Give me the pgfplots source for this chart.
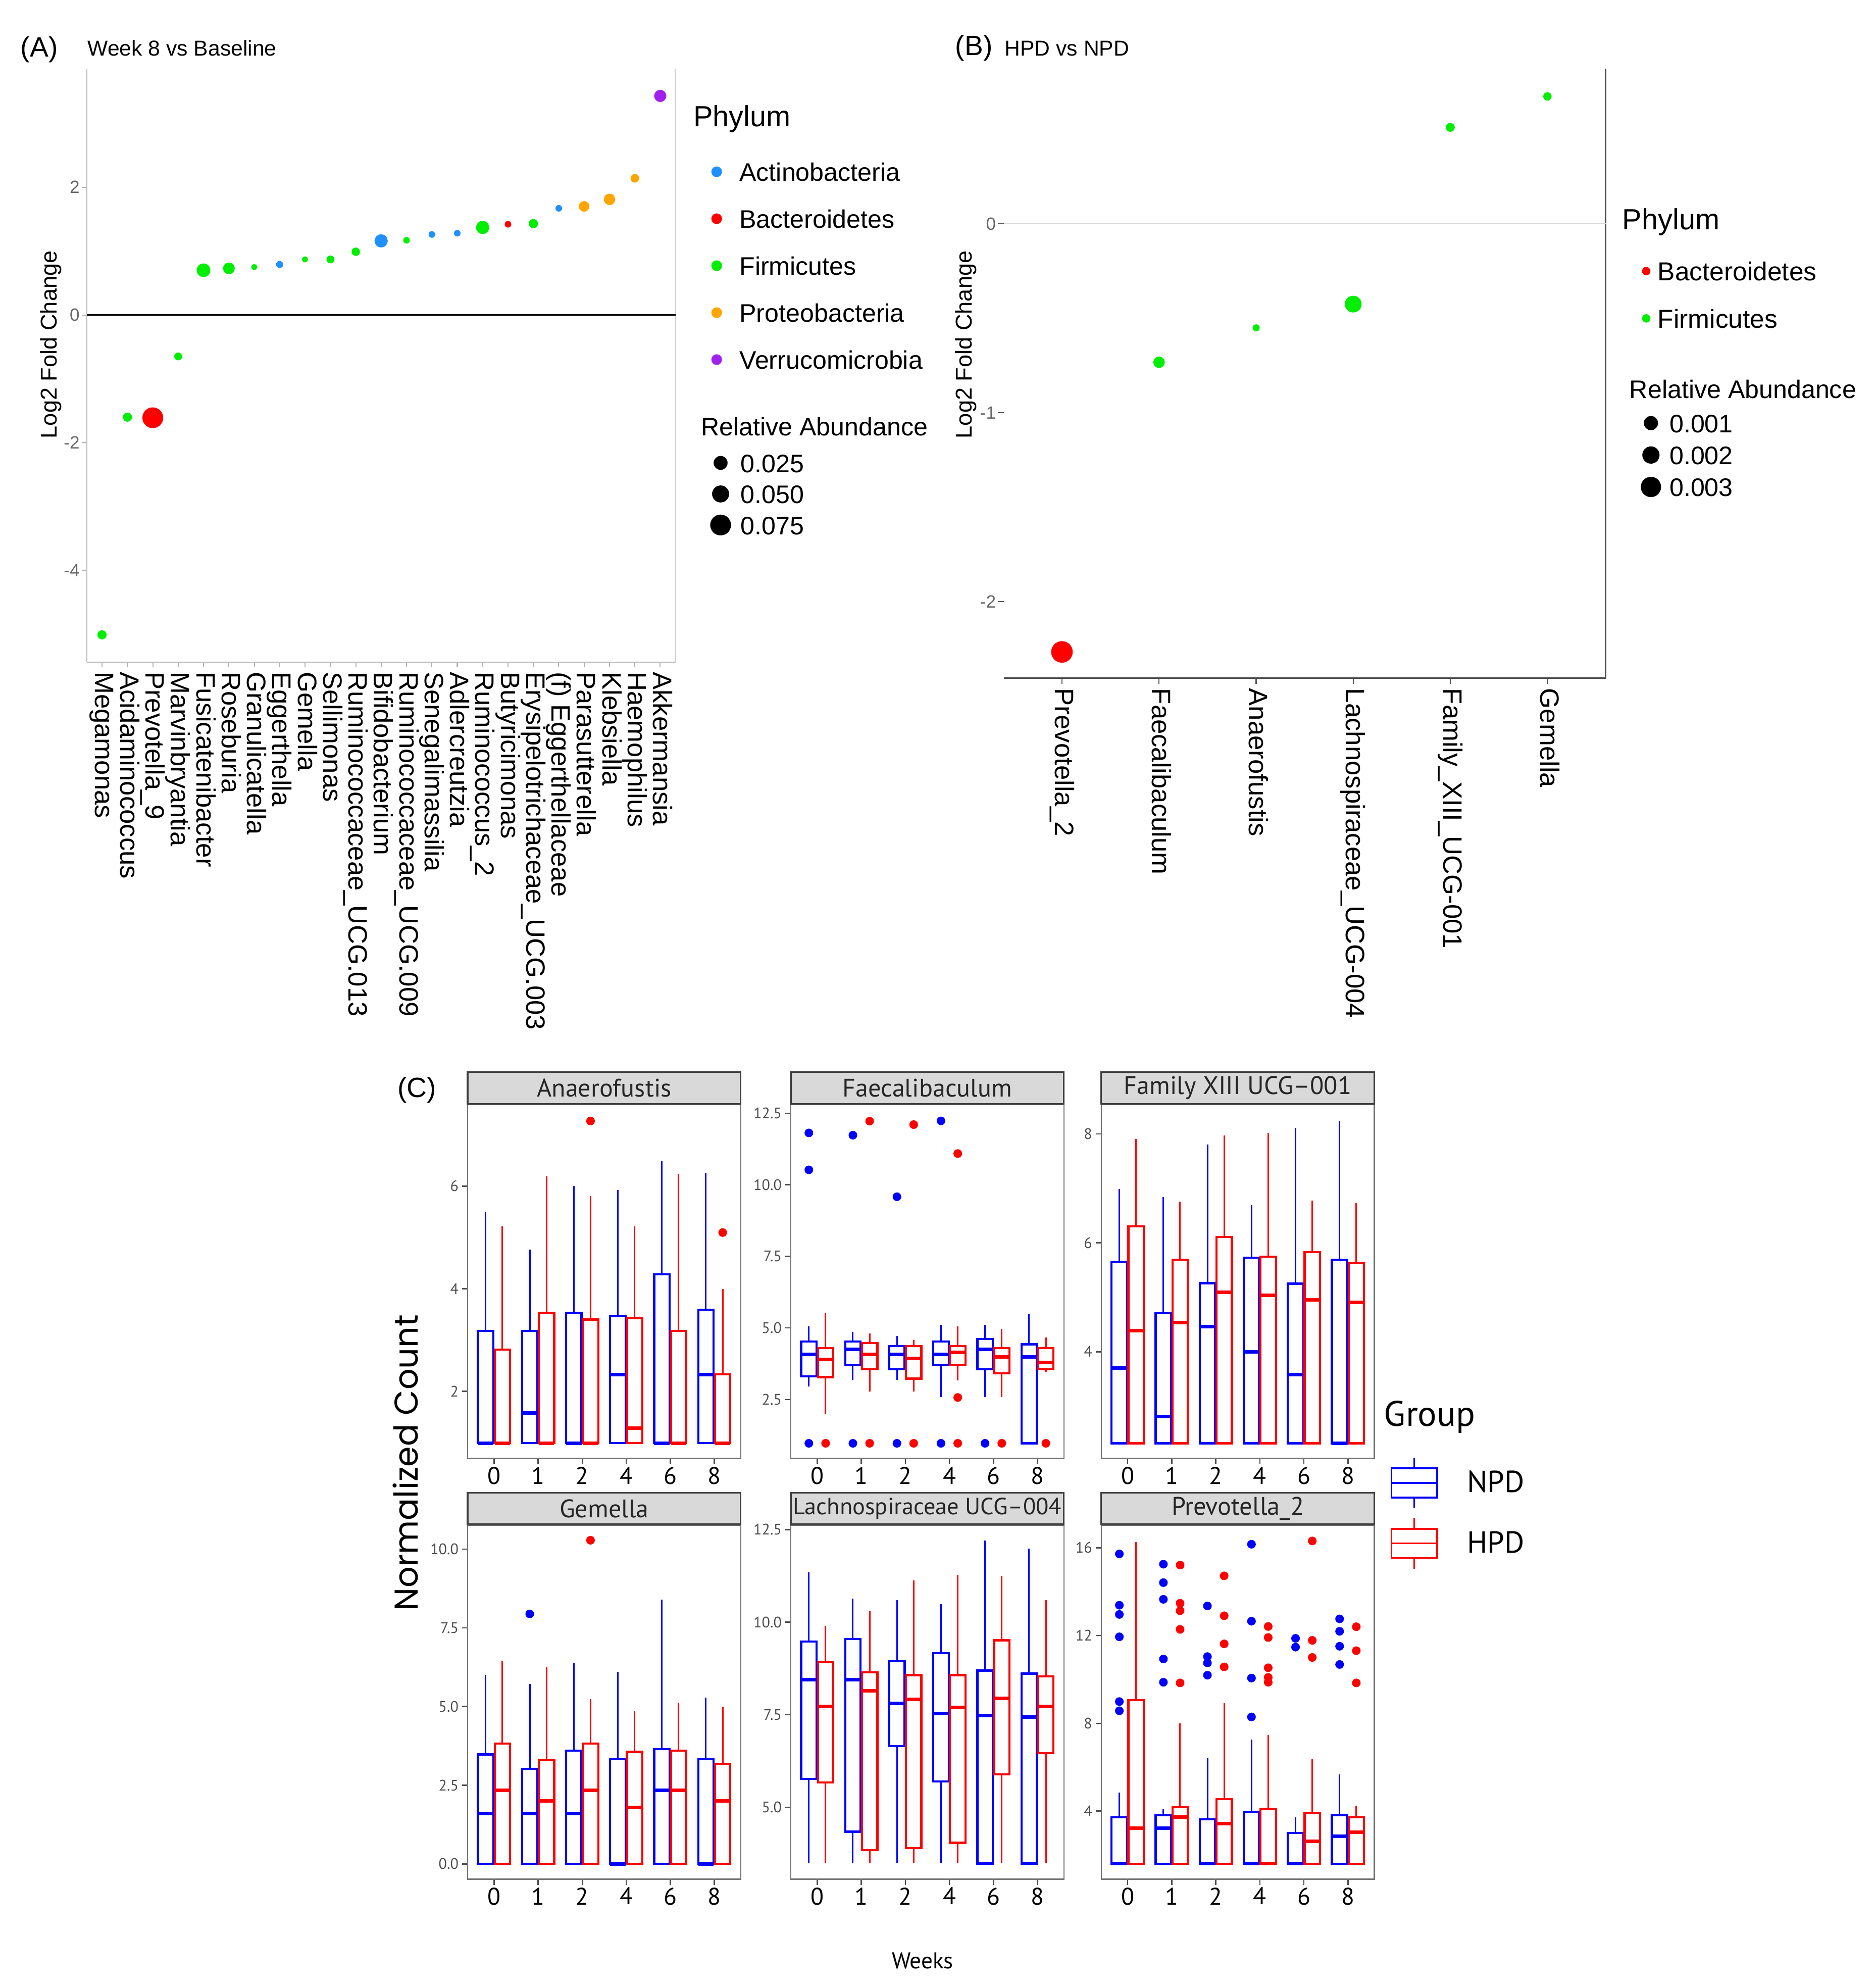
\documentclass[border=0pt]{standalone}
\usepackage{fontspec}
\setmainfont{Liberation Sans}
\newfontfamily\ptsans{PT Sans}
\newfontfamily\popp{Poppins}
\usepackage{pgfplots}
\pgfplotsset{compat=1.18}
\usepgfplotslibrary{statistics}

\definecolor{cAct}{HTML}{1E90FF}
\definecolor{cBac}{HTML}{FF0000}
\definecolor{cFir}{HTML}{00EE00}
\definecolor{cPro}{HTML}{FFA500}
\definecolor{cVer}{HTML}{A020F0}
\definecolor{cNPD}{HTML}{0000FF}
\definecolor{cHPD}{HTML}{FF0000}
\definecolor{strip}{HTML}{D9D9D9}

\newcommand{\fs}[1]{\fontsize{#1}{#1}\selectfont}

% one box: colour, position, lower whisker, lower quartile, median, upper quartile, upper whisker
\newcommand{\bx}[7]{\addplot[#1, forget plot, boxplot prepared={draw position=#2,
  lower whisker=#3, lower quartile=#4, median=#5, upper quartile=#6, upper whisker=#7}]
  coordinates {};}
% outliers: colour, coordinates
\newcommand{\outl}[2]{\addplot[only marks, mark=*, mark size=3.2pt, #1, forget plot] coordinates {#2};}

\pgfplotsset{
  bubbles/.style={only marks, mark=*, forget plot, scatter,
    scatter/use mapped color={draw=#1, fill=#1},
    visualization depends on={\thisrow{r}\as\rad},
    scatter/@pre marker code/.append style={/tikz/mark size=\rad}},
  ovl/.style={at={(0pt,-1566pt)}, anchor=south west, scale only axis,
    width=1480pt, height=1566pt, xmin=0, xmax=1480, ymin=-1566, ymax=0,
    hide axis, legend cell align=left,
    legend style={draw=none, fill=none, inner sep=0pt, outer sep=0pt,
      anchor=north west, nodes={inner sep=0pt, text height=17pt, text depth=2pt}}},
  cpanel/.style={scale only axis, anchor=south west, width=215.5pt, height=279.2pt,
    xmin=0.4, xmax=6.6, xtick={1,...,6}, xticklabels={0,1,2,4,6,8},
    tick align=outside, tick pos=left, major tick length=4.5pt,
    axis line style={black!55, line width=1pt},
    tick style={black!70, line width=1pt},
    x tick label style={font=\ptsans\fs{19}, text=black, inner sep=2pt},
    y tick label style={font=\ptsans\fs{12}, text=black!70, inner sep=2.5pt},
    every axis title shift=0pt,
    title style={at={(0.5,1)}, anchor=south, yshift=0pt, fill=strip, draw=black!75,
      line width=1.3pt, minimum width=215.5pt, minimum height=25pt, inner sep=0pt,
      font=\ptsans\fs{20}, text=black!85},
    boxplot/draw direction=y,
    boxplot/box extend=0.35, boxplot/whisker extend=0,
    boxplot/every box/.style={line width=1.7pt},
    boxplot/every whisker/.style={line width=1.2pt},
    boxplot/every median/.style={line width=2.8pt}},
  npdkey/.style={legend image code/.code={
    \draw[cNPD, line width=1.5pt] (0pt,-11.5pt) rectangle (36pt,11.5pt);
    \draw[cNPD, line width=1.5pt] (0pt,0pt) -- (36pt,0pt);
    \draw[cNPD, line width=1.2pt] (18pt,11.5pt) -- (18pt,20pt) (18pt,-11.5pt) -- (18pt,-20pt);}},
  hpdkey/.style={legend image code/.code={
    \draw[cHPD, line width=1.5pt] (0pt,-11.5pt) rectangle (36pt,11.5pt);
    \draw[cHPD, line width=1.5pt] (0pt,0pt) -- (36pt,0pt);
    \draw[cHPD, line width=1.2pt] (18pt,11.5pt) -- (18pt,20pt) (18pt,-11.5pt) -- (18pt,-20pt);}},
}

\begin{document}
\begin{tikzpicture}
\useasboundingbox (0,0) rectangle (1480pt,-1566pt);

% ---------------- (A) Week 8 vs Baseline ----------------
\begin{axis}[scale only axis, at={(68.5pt,-522.5pt)}, anchor=south west,
  width=464.5pt, height=468.5pt,
  xmin=0.4, xmax=23.6, ymin=-5.44, ymax=3.86,
  axis x line*=bottom, axis y line*=left,
  axis line style={gray!55, line width=0.9pt},
  tick align=outside, major tick length=4pt,
  tick style={gray!60, line width=0.8pt},
  xtick={1,...,23},
  xticklabels={Megamonas, Acidaminococcus, Prevotella\_9, Marvinbryantia,
    Fusicatenibacter, Roseburia, Granulicatella, Eggerthella, Gemella, Sellimonas,
    Ruminococcaceae\_UCG.013, Bifidobacterium, Ruminococcaceae\_UCG.009,
    Senegalimassilia, Adlercreutzia, Ruminococcus\_2, Butyricimonas,
    Erysipelotrichaceae\_UCG.003, (f) Eggerthellaceae, Parasutterella,
    Klebsiella, Haemophilus, Akkermansia},
  x tick label style={rotate=-90, anchor=west, font=\fs{21}, text height=15pt, text depth=4pt},
  ytick={-4,-2,0,2}, yticklabels={-4,-2,0,2},
  y tick label style={font=\fs{14}, text=black!60, inner sep=1.5pt},
  ylabel={Log2 Fold Change},
  ylabel style={font=\fs{18}, at={(axis description cs:-0.0614,0.535)}, anchor=center},
  extra y ticks={0}, extra y tick labels={},
  extra y tick style={grid=major, major grid style={black, line width=1pt}, major tick length=0pt},
  extra x ticks={23.6}, extra x tick labels={},
  extra x tick style={grid=major, major grid style={gray!35, line width=0.9pt}, major tick length=0pt},
]
\addplot[bubbles=cAct] table[row sep=\\] {x y r\\ 8 0.79 2.6\\ 12 1.16 5.0\\ 14 1.26 2.4\\ 15 1.28 2.4\\ 19 1.67 2.4\\};
\addplot[bubbles=cBac] table[row sep=\\] {x y r\\ 3 -1.61 8.0\\ 17 1.42 2.4\\};
\addplot[bubbles=cFir] table[row sep=\\] {x y r\\ 1 -5.01 3.4\\ 2 -1.60 3.4\\ 4 -0.65 2.9\\
  5 0.70 5.2\\ 6 0.73 4.4\\ 7 0.75 2.2\\ 9 0.87 2.2\\ 10 0.87 2.9\\ 11 0.99 3.1\\
  13 1.17 2.4\\ 16 1.37 5.0\\ 18 1.43 3.4\\};
\addplot[bubbles=cPro] table[row sep=\\] {x y r\\ 20 1.70 4.0\\ 21 1.81 4.3\\ 22 2.14 3.2\\};
\addplot[bubbles=cVer] table[row sep=\\] {x y r\\ 23 3.43 4.6\\};
\end{axis}

% legends of (A)
\begin{axis}[ovl, legend style={at={(axis cs:561.5,-126)}, font=\fs{20}, row sep=18.05pt,
  /tikz/every odd column/.append style={column sep=14pt}}]
\addlegendimage{only marks, mark=*, mark size=4pt, cAct}\addlegendentry{Actinobacteria}
\addlegendimage{only marks, mark=*, mark size=4pt, cBac}\addlegendentry{Bacteroidetes}
\addlegendimage{only marks, mark=*, mark size=4pt, cFir}\addlegendentry{Firmicutes}
\addlegendimage{only marks, mark=*, mark size=4pt, cPro}\addlegendentry{Proteobacteria}
\addlegendimage{only marks, mark=*, mark size=4pt, cVer}\addlegendentry{Verrucomicrobia}
\end{axis}
\begin{axis}[ovl, legend style={at={(axis cs:560.6,-355.7)}, font=\fs{20}, row sep=5.5pt,
  /tikz/every odd column/.append style={column sep=7.9pt}}]
\addlegendimage{only marks, mark=*, mark size=5.3pt, black}\addlegendentry{0.025}
\addlegendimage{only marks, mark=*, mark size=6.5pt, black}\addlegendentry{0.050}
\addlegendimage{only marks, mark=*, mark size=8pt, black}\addlegendentry{0.075}
\end{axis}

% ---------------- (B) HPD vs NPD ----------------
\begin{axis}[scale only axis, at={(792pt,-535pt)}, anchor=south west,
  width=475pt, height=481pt,
  xmin=0.4, xmax=6.6, ymin=-2.406, ymax=0.823,
  axis x line*=bottom, axis y line*=left,
  x axis line style={black!70, line width=1.1pt}, y axis line style={draw=none},
  tick align=outside, major tick length=4.5pt,
  tick style={black!65, line width=0.9pt},
  xtick={1,...,6},
  xticklabels={Prevotella\_2, Faecalibaculum, Anaerofustis, Lachnospiraceae\_UCG-004,
    Family\_XIII\_UCG-001, Gemella},
  x tick label style={rotate=-90, anchor=west, font=\fs{21}, text height=15pt, text depth=4pt},
  ytick={-2,-1,0}, yticklabels={-2,-1,0},
  y tick label style={font=\fs{14}, text=black!60, inner sep=1.5pt},
  ylabel={Log2 Fold Change},
  ylabel style={font=\fs{18}, at={(axis description cs:-0.063,0.547)}, anchor=center},
  extra y ticks={0}, extra y tick labels={},
  extra y tick style={grid=major, major grid style={gray!30, line width=1pt}, major tick length=0pt},
  extra x ticks={6.6}, extra x tick labels={},
  extra x tick style={grid=major, major grid style={black!70, line width=1.1pt}, major tick length=0pt},
]
\addplot[bubbles=cBac] table[row sep=\\] {x y r\\ 1 -2.267 8.3\\};
\addplot[bubbles=cFir] table[row sep=\\] {x y r\\ 2 -0.733 4.3\\ 3 -0.551 2.6\\ 4 -0.425 6.4\\
  5 0.511 3.3\\ 6 0.675 3.1\\};
\end{axis}

% legends of (B)
\begin{axis}[ovl, legend style={at={(axis cs:1295.9,-204.4)}, font=\fs{20.5}, row sep=18.3pt,
  /tikz/every odd column/.append style={column sep=6pt}}]
\addlegendimage{only marks, mark=*, mark size=3.1pt, cBac}\addlegendentry{Bacteroidetes}
\addlegendimage{only marks, mark=*, mark size=3.1pt, cFir}\addlegendentry{Firmicutes}
\end{axis}
\begin{axis}[ovl, legend style={at={(axis cs:1294.9,-324.3)}, font=\fs{20}, row sep=6.2pt,
  /tikz/every odd column/.append style={column sep=6.9pt}}]
\addlegendimage{only marks, mark=*, mark size=5.4pt, black}\addlegendentry{0.001}
\addlegendimage{only marks, mark=*, mark size=6.6pt, black}\addlegendentry{0.002}
\addlegendimage{only marks, mark=*, mark size=7.8pt, black}\addlegendentry{0.003}
\end{axis}

% ---------------- (C) boxplots ----------------
\begin{axis}[cpanel, at={(369pt,-1150.6pt)}, title={Anaerofustis},
  ymin=0.69, ymax=7.59, ytick={2,4,6}, yticklabels={2,4,6}]
\bx{cNPD}{0.81}{0.99}{0.99}{0.99}{3.175}{5.49}
\bx{cHPD}{1.19}{0.99}{0.99}{0.99}{2.81}{5.22}
\bx{cNPD}{1.81}{0.99}{0.99}{1.575}{3.175}{4.76}
\bx{cHPD}{2.19}{0.99}{0.99}{0.99}{3.53}{6.19}
\bx{cNPD}{2.81}{0.99}{0.99}{0.99}{3.53}{6.00}
\bx{cHPD}{3.19}{0.99}{0.99}{0.99}{3.40}{5.81}
\bx{cNPD}{3.81}{0.99}{0.99}{2.33}{3.47}{5.92}
\bx{cHPD}{4.19}{0.99}{0.99}{1.28}{3.42}{5.22}
\bx{cNPD}{4.81}{0.99}{0.99}{0.99}{4.28}{6.49}
\bx{cHPD}{5.19}{0.99}{0.99}{0.99}{3.175}{6.24}
\bx{cNPD}{5.81}{0.99}{0.99}{2.33}{3.59}{6.26}
\bx{cHPD}{6.19}{0.99}{0.99}{0.99}{2.33}{3.99}
\outl{cHPD}{(3.19,7.27) (6.19,5.095)}
\end{axis}

\begin{axis}[cpanel, at={(624pt,-1150.6pt)}, title={Faecalibaculum},
  ymin=0.44, ymax=12.8, ytick={2.5,5,7.5,10,12.5}, yticklabels={2.5,5.0,7.5,10.0,12.5}]
\bx{cNPD}{0.81}{2.96}{3.31}{4.07}{4.53}{5.06}
\bx{cHPD}{1.19}{1.99}{3.28}{3.90}{4.30}{5.53}
\bx{cNPD}{1.81}{3.18}{3.69}{4.25}{4.52}{4.86}
\bx{cHPD}{2.19}{2.77}{3.56}{4.07}{4.47}{4.81}
\bx{cNPD}{2.81}{3.18}{3.56}{4.07}{4.37}{4.71}
\bx{cHPD}{3.19}{2.77}{3.23}{3.93}{4.37}{4.57}
\bx{cNPD}{3.81}{2.59}{3.71}{4.07}{4.53}{5.11}
\bx{cHPD}{4.19}{3.16}{3.71}{4.15}{4.37}{5.06}
\bx{cNPD}{4.81}{2.59}{3.56}{4.25}{4.61}{5.11}
\bx{cHPD}{5.19}{2.59}{3.41}{3.98}{4.30}{4.96}
\bx{cNPD}{5.81}{0.97}{0.97}{3.98}{4.43}{5.48}
\bx{cHPD}{6.19}{3.46}{3.56}{3.80}{4.30}{4.66}
\outl{cNPD}{(0.81,11.81) (0.81,10.52) (0.81,0.97) (1.81,11.73) (1.81,0.97)
  (2.81,9.58) (2.81,0.97) (3.81,12.23) (3.81,0.97) (4.81,0.97)}
\outl{cHPD}{(1.19,0.97) (2.19,12.22) (2.19,0.97) (3.19,12.10) (3.19,0.97)
  (4.19,11.09) (4.19,2.57) (4.19,0.97) (5.19,0.97) (6.19,0.97)}
\end{axis}

\begin{axis}[cpanel, at={(869pt,-1150.6pt)}, title={Family XIII UCG\textendash 001},
  ymin=2.04, ymax=8.54, ytick={4,6,8}, yticklabels={4,6,8}]
\bx{cNPD}{0.81}{2.32}{2.32}{3.70}{5.65}{6.99}
\bx{cHPD}{1.19}{2.32}{2.32}{4.39}{6.30}{7.91}
\bx{cNPD}{1.81}{2.32}{2.32}{2.81}{4.71}{6.84}
\bx{cHPD}{2.19}{2.32}{2.32}{4.54}{5.69}{6.76}
\bx{cNPD}{2.81}{2.32}{2.32}{4.46}{5.26}{7.81}
\bx{cHPD}{3.19}{2.32}{2.32}{5.09}{6.11}{7.97}
\bx{cNPD}{3.81}{2.32}{2.32}{4.00}{5.73}{6.69}
\bx{cHPD}{4.19}{2.32}{2.32}{5.04}{5.75}{8.02}
\bx{cNPD}{4.81}{2.32}{2.32}{3.58}{5.25}{8.11}
\bx{cHPD}{5.19}{2.32}{2.32}{4.95}{5.83}{6.78}
\bx{cNPD}{5.81}{2.32}{2.32}{2.32}{5.69}{8.23}
\bx{cHPD}{6.19}{2.32}{2.32}{4.91}{5.63}{6.73}
\end{axis}

\begin{axis}[cpanel, at={(369pt,-1482.4pt)}, title={Gemella},
  ymin=-0.48, ymax=10.76, ytick={0,2.5,5,7.5,10}, yticklabels={0.0,2.5,5.0,7.5,10.0}]
\bx{cNPD}{0.81}{0}{0}{1.60}{3.48}{6.00}
\bx{cHPD}{1.19}{0}{0}{2.34}{3.82}{6.45}
\bx{cNPD}{1.81}{0}{0}{1.60}{3.02}{5.72}
\bx{cHPD}{2.19}{0}{0}{2.01}{3.29}{6.25}
\bx{cNPD}{2.81}{0}{0}{1.60}{3.60}{6.38}
\bx{cHPD}{3.19}{0}{0}{2.34}{3.82}{5.24}
\bx{cNPD}{3.81}{0}{0}{0}{3.33}{6.10}
\bx{cHPD}{4.19}{0}{0}{1.80}{3.56}{4.85}
\bx{cNPD}{4.81}{0}{0}{2.34}{3.65}{8.40}
\bx{cHPD}{5.19}{0}{0}{2.34}{3.60}{5.13}
\bx{cNPD}{5.81}{0}{0}{0}{3.33}{5.28}
\bx{cHPD}{6.19}{0}{0}{2.01}{3.18}{5.00}
\outl{cNPD}{(1.81,7.94)}
\outl{cHPD}{(3.19,10.28)}
\end{axis}

\begin{axis}[cpanel, at={(624pt,-1482.4pt)}, title={\fs{18.5}Lachnospiraceae UCG\textendash 004},
  ymin=3.06, ymax=12.62, ytick={5,7.5,10,12.5}, yticklabels={5.0,7.5,10.0,12.5}]
\bx{cNPD}{0.81}{3.48}{5.76}{8.44}{9.48}{11.34}
\bx{cHPD}{1.19}{3.48}{5.67}{7.72}{8.92}{9.90}
\bx{cNPD}{1.81}{3.48}{4.34}{8.44}{9.54}{10.64}
\bx{cHPD}{2.19}{3.48}{3.84}{8.14}{8.64}{10.29}
\bx{cNPD}{2.81}{3.48}{6.65}{7.81}{8.94}{10.60}
\bx{cHPD}{3.19}{3.48}{3.90}{7.91}{8.57}{11.12}
\bx{cNPD}{3.81}{3.48}{5.70}{7.53}{9.16}{10.49}
\bx{cHPD}{4.19}{3.48}{4.04}{7.70}{8.57}{11.28}
\bx{cNPD}{4.81}{3.48}{3.48}{7.48}{8.69}{12.21}
\bx{cHPD}{5.19}{3.48}{5.89}{7.94}{9.51}{11.25}
\bx{cNPD}{5.81}{3.48}{3.48}{7.43}{8.61}{11.99}
\bx{cHPD}{6.19}{3.48}{6.46}{7.72}{8.53}{10.60}
\end{axis}

\begin{axis}[cpanel, at={(869pt,-1482.4pt)}, title={Prevotella\_2},
  ymin=0.90, ymax=17.03, ytick={4,8,12,16}, yticklabels={4,8,12,16}]
\bx{cNPD}{0.81}{1.60}{1.60}{1.60}{3.72}{4.84}
\bx{cHPD}{1.19}{1.60}{1.60}{3.21}{9.06}{16.26}
\bx{cNPD}{1.81}{1.60}{1.60}{3.21}{3.81}{4.09}
\bx{cHPD}{2.19}{1.60}{1.60}{3.72}{4.18}{7.99}
\bx{cNPD}{2.81}{1.60}{1.60}{1.60}{3.62}{6.41}
\bx{cHPD}{3.19}{1.60}{1.60}{3.43}{4.54}{8.91}
\bx{cNPD}{3.81}{1.60}{1.60}{1.60}{3.94}{7.25}
\bx{cHPD}{4.19}{1.60}{1.60}{1.60}{4.10}{7.47}
\bx{cNPD}{4.81}{1.60}{1.60}{1.60}{3.00}{3.72}
\bx{cHPD}{5.19}{1.60}{1.60}{2.62}{3.91}{6.37}
\bx{cNPD}{5.81}{1.60}{1.60}{2.84}{3.81}{5.68}
\bx{cHPD}{6.19}{1.60}{1.60}{3.03}{3.72}{4.25}
\outl{cNPD}{(0.81,15.72) (0.81,13.38) (0.81,12.96) (0.81,11.94) (0.81,8.99) (0.81,8.57)
  (1.81,15.25) (1.81,14.41) (1.81,13.65) (1.81,10.93) (1.81,9.87)
  (2.81,13.35) (2.81,11.04) (2.81,10.75) (2.81,10.19)
  (3.81,16.16) (3.81,12.65) (3.81,10.06) (3.81,8.29)
  (4.81,11.87) (4.81,11.47)
  (5.81,12.76) (5.81,12.19) (5.81,11.51) (5.81,10.68)}
\outl{cHPD}{(2.19,15.21) (2.19,13.47) (2.19,13.13) (2.19,12.28) (2.19,9.84)
  (3.19,14.72) (3.19,12.90) (3.19,11.62) (3.19,10.57)
  (4.19,12.41) (4.19,11.91) (4.19,10.53) (4.19,10.09) (4.19,9.87)
  (5.19,16.31) (5.19,11.78) (5.19,11.00)
  (6.19,12.40) (6.19,11.31) (6.19,9.84)}
\end{axis}

% legend of (C)
\begin{axis}[ovl, legend style={at={(axis cs:1097.2,-1149.25)}, font=\ptsans\fs{24}, row sep=6.5pt,
  /tikz/every odd column/.append style={column sep=23pt}}]
\addlegendimage{npdkey}\addlegendentry{NPD}
\addlegendimage{hpdkey}\addlegendentry{HPD}
\end{axis}

% panel letters, titles and shared labels
\node[font=\fs{22}] at (31pt,-39pt) {(A)};
\node[anchor=west, inner sep=0pt, font=\fs{17}] at (69pt,-37.8pt) {Week 8 vs Baseline};
\node[font=\fs{22}] at (768.5pt,-38pt) {(B)};
\node[anchor=west, inner sep=0pt, font=\fs{17}] at (792.6pt,-38.3pt) {HPD vs NPD};
\node[font=\fs{22}] at (329pt,-860pt) {(C)};
\node[anchor=west, inner sep=0pt, font=\fs{23}] at (546.9pt,-94pt) {Phylum};
\node[anchor=west, inner sep=0pt, font=\fs{20}] at (553pt,-336.5pt) {Relative Abundance};
\node[anchor=west, inner sep=0pt, font=\fs{23}] at (1280pt,-175pt) {Phylum};
\node[anchor=west, inner sep=0pt, font=\fs{20}] at (1285.6pt,-307pt) {Relative Abundance};
\node[anchor=west, inner sep=0pt, font=\ptsans\fs{28}] at (1092pt,-1118pt) {Group};
\node[rotate=90, font=\popp\fs{26}] at (320pt,-1154pt) {Normalized Count};
\node[font=\ptsans\fs{18}] at (728pt,-1547pt) {Weeks};
\end{tikzpicture}
\end{document}
